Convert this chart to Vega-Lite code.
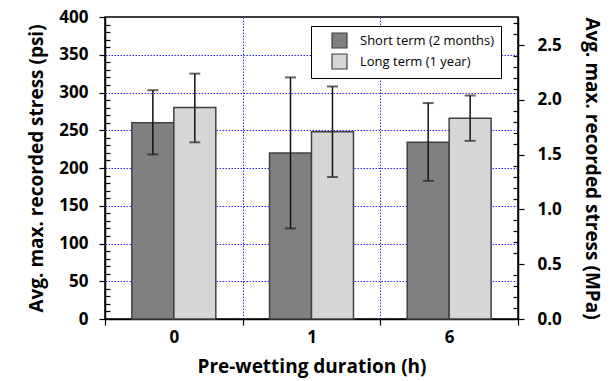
{
  "$schema": "https://vega.github.io/schema/vega-lite/v6.json",
  "autosize": "none",
  "width": 413,
  "height": 302,
  "padding": {"left": 105, "top": 17, "right": 92, "bottom": 62},
  "background": "white",
  "config": {
    "font": "Open Sans",
    "view": {"stroke": "black", "strokeWidth": 1.5},
    "axis": {
      "labelFont": "Open Sans", "labelFontWeight": "bold", "labelFontSize": 17, "labelColor": "black",
      "titleFont": "Open Sans", "titleFontWeight": "bold", "titleFontSize": 19, "titleColor": "black",
      "domainColor": "black", "domainWidth": 1.5, "tickColor": "black", "tickWidth": 1.2, "labelOverlap": false
    }
  },
  "data": {
    "values": [
      {"duration": "0", "term": "Short term (2 months)", "mean": 260, "lo": 218, "hi": 303},
      {"duration": "0", "term": "Long term (1 year)", "mean": 280, "lo": 234, "hi": 325},
      {"duration": "1", "term": "Short term (2 months)", "mean": 220, "lo": 120, "hi": 320},
      {"duration": "1", "term": "Long term (1 year)", "mean": 248, "lo": 188, "hi": 308},
      {"duration": "6", "term": "Short term (2 months)", "mean": 234, "lo": 183, "hi": 286},
      {"duration": "6", "term": "Long term (1 year)", "mean": 266, "lo": 236, "hi": 296}
    ]
  },
  "layer": [
    {
      "mark": {"type": "bar", "stroke": "#404040", "strokeWidth": 1.5},
      "encoding": {
        "x": {
          "field": "duration", "type": "nominal", "sort": ["0", "1", "6"],
          "scale": {"paddingInner": 0, "paddingOuter": 0},
          "axis": {
            "title": "Pre-wetting duration (h)", "labelAngle": 0, "tickBand": "extent",
            "tickSize": 6, "labelPadding": 4, "titlePadding": 12,
            "grid": true, "gridColor": "#2a2aff", "gridDash": [1.5, 1.5], "gridWidth": 1
          }
        },
        "xOffset": {
          "field": "term", "type": "nominal",
          "scale": {"domain": ["Short term (2 months)", "Long term (1 year)"], "paddingInner": 0, "paddingOuter": 0.64}
        },
        "y": {
          "field": "mean", "type": "quantitative",
          "scale": {"domain": [0, 400], "nice": false},
          "axis": {
            "title": "Avg. max. recorded stress (psi)",
            "values": [0,10,20,30,40,50,60,70,80,90,100,110,120,130,140,150,160,170,180,190,200,210,220,230,240,250,260,270,280,290,300,310,320,330,340,350,360,370,380,390,400],
            "labelExpr": "datum.value % 50 === 0 ? datum.label : ''",
            "tickSize": {"condition": {"test": "datum.value % 50 === 0", "value": 6}, "value": -5},
            "labelPadding": 11, "titlePadding": 12,
            "grid": true, "gridColor": "#2a2aff", "gridDash": [1.5, 1.5], "gridWidth": 1,
            "gridOpacity": {"condition": {"test": "datum.value % 50 === 0 && datum.value > 0 && datum.value < 400", "value": 1}, "value": 0}
          }
        },
        "color": {
          "field": "term", "type": "nominal",
          "scale": {"domain": ["Short term (2 months)", "Long term (1 year)"], "range": ["#808080", "#d6d6d6"]},
          "legend": {
            "title": null, "orient": "none", "legendX": 206, "legendY": 9,
            "fillColor": "white", "strokeColor": "black", "padding": 6,
            "symbolType": "square", "symbolSize": 225, "symbolStrokeColor": "#404040", "symbolStrokeWidth": 1.2,
            "symbolOffset": 14, "symbolOpacity": 1, "labelFont": "Open Sans", "labelFontSize": 13, "labelColor": "black",
            "labelOffset": 12, "rowPadding": 0
          }
        }
      }
    },
    {
      "mark": {"type": "rule", "color": "#111111", "strokeWidth": 1.5},
      "encoding": {
        "x": {"field": "duration", "type": "nominal", "sort": ["0", "1", "6"]},
        "xOffset": {"field": "term", "type": "nominal"},
        "y": {"field": "lo", "type": "quantitative", "scale": {"domain": [0, 400], "nice": false}, "axis": null},
        "y2": {"field": "hi"}
      }
    },
    {
      "mark": {"type": "tick", "orient": "horizontal", "color": "#222222", "size": 11, "thickness": 2},
      "encoding": {
        "x": {"field": "duration", "type": "nominal", "sort": ["0", "1", "6"]},
        "xOffset": {"field": "term", "type": "nominal"},
        "y": {"field": "lo", "type": "quantitative", "scale": {"domain": [0, 400], "nice": false}, "axis": null}
      }
    },
    {
      "mark": {"type": "tick", "orient": "horizontal", "color": "#222222", "size": 11, "thickness": 2},
      "encoding": {
        "x": {"field": "duration", "type": "nominal", "sort": ["0", "1", "6"]},
        "xOffset": {"field": "term", "type": "nominal"},
        "y": {"field": "hi", "type": "quantitative", "scale": {"domain": [0, 400], "nice": false}, "axis": null}
      }
    },
    {
      "mark": {"type": "rule", "opacity": 0},
      "encoding": {
        "y": {
          "datum": 0, "type": "quantitative",
          "scale": {"domain": [0, 2.757899], "nice": false},
          "axis": {
            "orient": "right",
            "title": "Avg. max. recorded stress (MPa)",
            "values": [0,0.1,0.2,0.3,0.4,0.5,0.6,0.7,0.8,0.9,1.0,1.1,1.2,1.3,1.4,1.5,1.6,1.7,1.8,1.9,2.0,2.1,2.2,2.3,2.4,2.5,2.6,2.7],
            "labelExpr": "round(datum.value * 10) % 5 === 0 ? format(datum.value, '.1f') : ''",
            "tickSize": {"condition": {"test": "round(datum.value * 10) % 5 === 0", "value": 6}, "value": -5},
            "labelPadding": 13, "titlePadding": 20, "grid": false
          }
        }
      }
    }
  ],
  "resolve": {"scale": {"y": "independent"}}
}
